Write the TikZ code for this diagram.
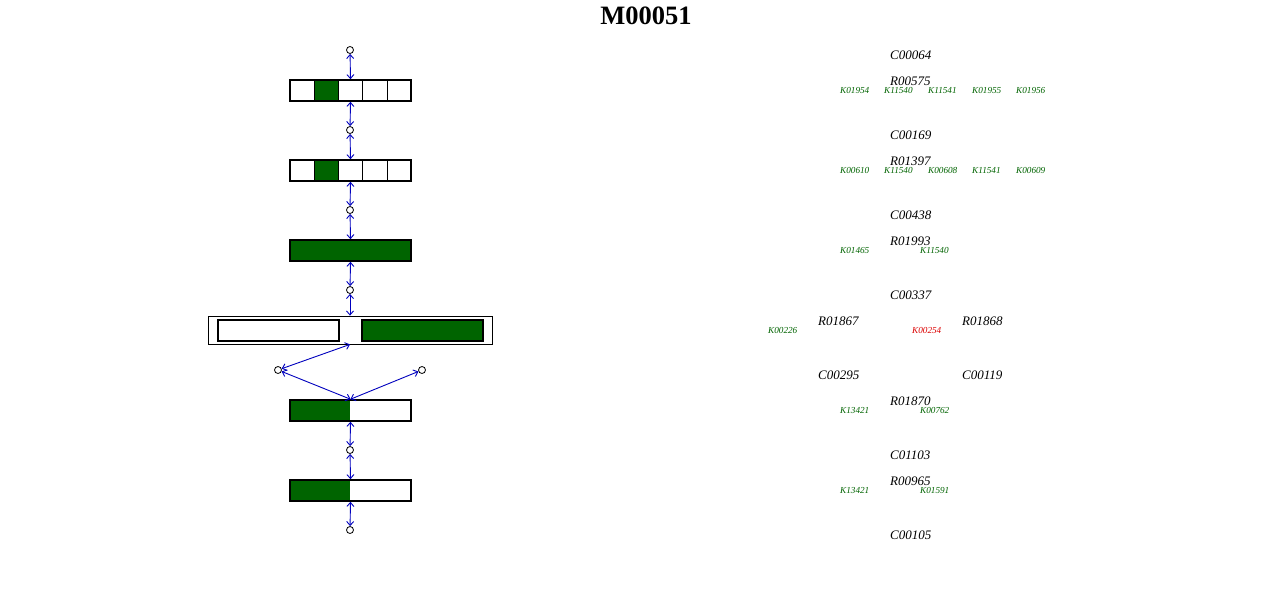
\documentclass[tikz,border=0pt]{standalone}
\usepackage{fontspec}
\setmainfont{Liberation Serif}
\usetikzlibrary{arrows.meta}
\definecolor{kgreen}{RGB}{0,100,0}
\definecolor{kblue}{RGB}{0,0,190}
\definecolor{kred}{RGB}{220,0,0}
\begin{document}
\begin{tikzpicture}[x=1pt,y=-1pt,
 cpd/.style={circle,draw,fill=white,inner sep=0,minimum size=7pt,line width=0.8pt},
 enz/.style={draw,line width=1.6pt,minimum width=121pt,minimum height=21pt,inner sep=0},
 cellline/.style={line width=0.7pt},
 rx/.style={kblue,line width=0.9pt,{Straight Barb[length=4pt,width=7pt]}-{Straight Barb[length=4pt,width=7pt]}},
 lbl/.style={anchor=west,inner sep=0,font=\fontsize{13}{15}\selectfont\itshape},
 ko/.style={anchor=west,inner sep=0,text=kgreen,font=\fontsize{9.2}{11}\selectfont\itshape},
]
\useasboundingbox[fill=white] (0,0) rectangle (1280,600);
\node[font=\fontsize{26.5}{30}\selectfont\bfseries] (title) at (646,15.5) {M00051};

% boxes
\fill[kgreen] (314,80) rectangle (338,101);
\foreach \x in {314,338,362,387} \draw[cellline] (\x,80) -- (\x,101);
\node[enz] (b1) at (350.5,90.5) {};
\fill[kgreen] (314,160) rectangle (338,181);
\foreach \x in {314,338,362,387} \draw[cellline] (\x,160) -- (\x,181);
\node[enz] (b2) at (350.5,170.5) {};
\node[enz,fill=kgreen] (b3) at (350.5,250.5) {};
\node[draw,line width=0.8pt,minimum width=284pt,minimum height=28pt,inner sep=0] (b4) at (350,330) {};
\node[enz,fill=white] (b4a) at (278.5,330.5) {};
\node[enz,fill=kgreen] (b4b) at (422.5,330.5) {};
\fill[kgreen] (290,400) rectangle (350,421);
\node[enz] (b5) at (350.5,410.5) {};
\fill[kgreen] (290,480) rectangle (350,501);
\node[enz] (b6) at (350.5,490.5) {};

% compounds
\node[cpd] (c1) at (350,50) {};
\node[cpd] (c2) at (350,130) {};
\node[cpd] (c3) at (350,210) {};
\node[cpd] (c4) at (350,290) {};
\node[cpd] (c5) at (278,370) {};
\node[cpd] (c6) at (422,370) {};
\node[cpd] (c7) at (350,450) {};
\node[cpd] (c8) at (350,530) {};

% reactions
\draw[rx] (c1) -- (b1.north);
\draw[rx] (b1.south) -- (c2);
\draw[rx] (c2) -- (b2.north);
\draw[rx] (b2.south) -- (c3);
\draw[rx] (c3) -- (b3.north);
\draw[rx] (b3.south) -- (c4);
\draw[rx] (c4) -- (b4.north);
\draw[rx] (b4.south) -- (c5);
\draw[rx] (c5) -- (b5.north);
\draw[rx] (c6) -- (b5.north);
\draw[rx] (b5.south) -- (c7);
\draw[rx] (c7) -- (b6.north);
\draw[rx] (b6.south) -- (c8);

% right-hand labels
\node[lbl] (t1) at (890,55.5) {C00064};
\node[lbl] (t2) at (890,81.5) {R00575};
\node[ko] (k1) at (840,90.5) {K01954};
\node[ko] (k2) at (884,90.5) {K11540};
\node[ko] (k3) at (928,90.5) {K11541};
\node[ko] (k4) at (972,90.5) {K01955};
\node[ko] (k5) at (1016,90.5) {K01956};
\node[lbl] (t3) at (890,135.5) {C00169};
\node[lbl] (t4) at (890,161.5) {R01397};
\node[ko] (k6) at (840,170.5) {K00610};
\node[ko] (k7) at (884,170.5) {K11540};
\node[ko] (k8) at (928,170.5) {K00608};
\node[ko] (k9) at (972,170.5) {K11541};
\node[ko] (k10) at (1016,170.5) {K00609};
\node[lbl] (t5) at (890,215.5) {C00438};
\node[lbl] (t6) at (890,241.5) {R01993};
\node[ko] (k11) at (840,250.5) {K01465};
\node[ko] (k12) at (920,250.5) {K11540};
\node[lbl] (t7) at (890,295.5) {C00337};
\node[lbl] (t8) at (818,321.5) {R01867};
\node[lbl] (t9) at (962,321.5) {R01868};
\node[ko] (k13) at (768,330.5) {K00226};
\node[ko,text=kred] (k14) at (912,330.5) {K00254};
\node[lbl] (t10) at (818,375.5) {C00295};
\node[lbl] (t11) at (962,375.5) {C00119};
\node[lbl] (t12) at (890,401.5) {R01870};
\node[ko] (k15) at (840,410.5) {K13421};
\node[ko] (k16) at (920,410.5) {K00762};
\node[lbl] (t13) at (890,455.5) {C01103};
\node[lbl] (t14) at (890,481.5) {R00965};
\node[ko] (k17) at (840,490.5) {K13421};
\node[ko] (k18) at (920,490.5) {K01591};
\node[lbl] (t15) at (890,535.5) {C00105};
\end{tikzpicture}
\end{document}
